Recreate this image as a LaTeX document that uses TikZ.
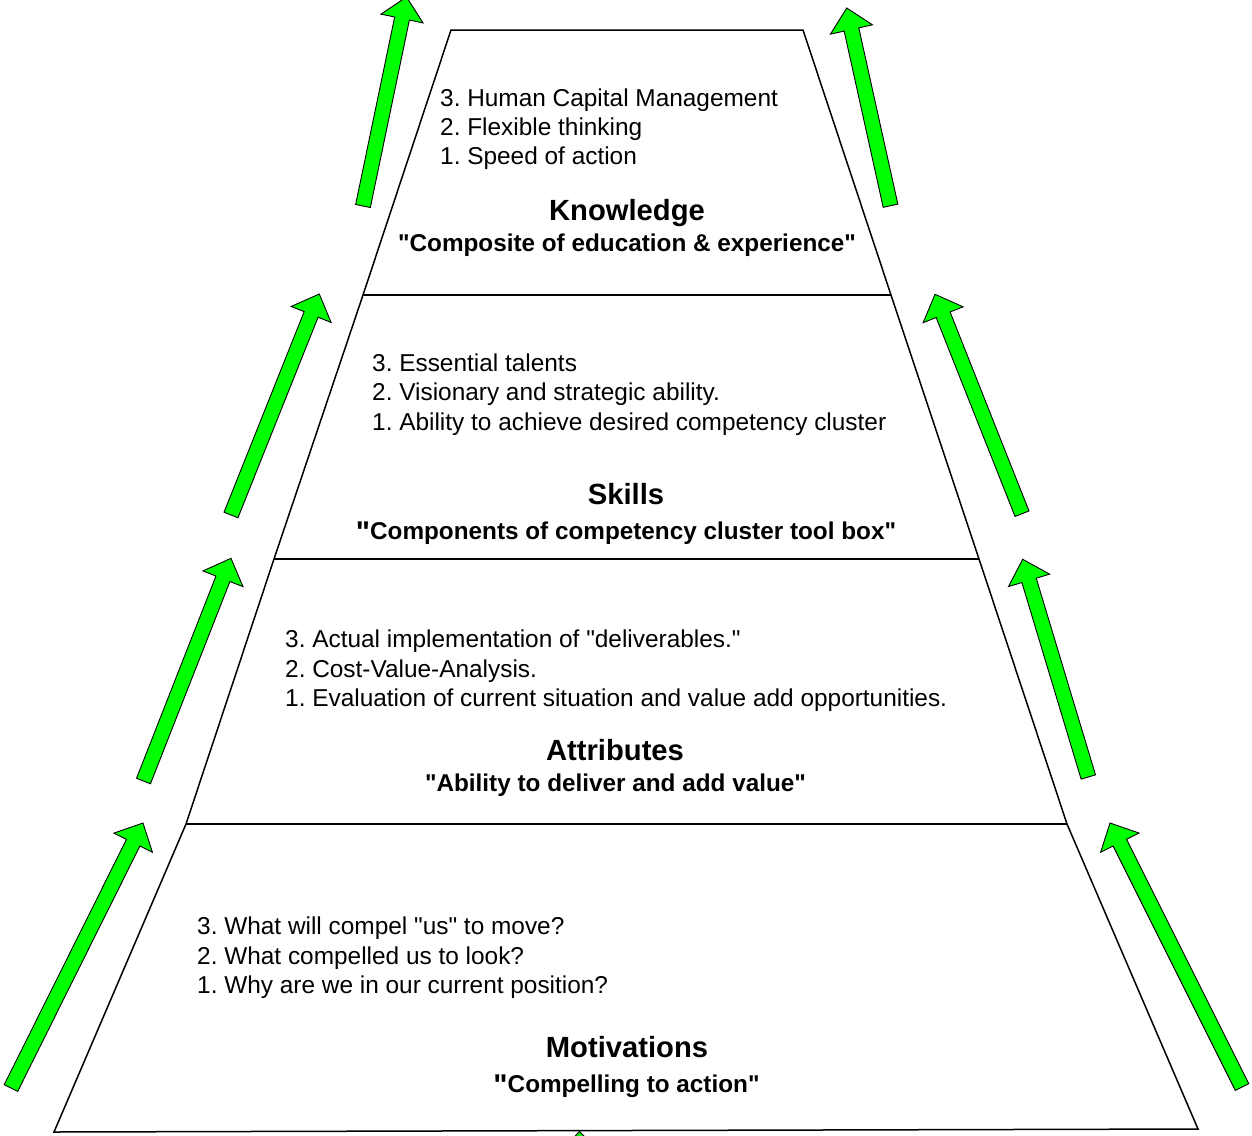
\documentclass[tikz,border=0pt]{standalone}
\usepackage{fontspec}
\setmainfont{Liberation Sans}[Ligatures=TeXOff]
\usetikzlibrary{calc}
\definecolor{arrowgreen}{RGB}{0,255,0}
\newcommand\bigq{\raisebox{-3pt}{\fontsize{30}{30}\selectfont"}}
\newcommand\garrow[2]{%
  \coordinate (gT) at (#1);
  \coordinate (gP) at (#2);
  \coordinate (gB) at ($(gP)!22pt!(gT)$);
  \filldraw[arrowstyle] ($(gT)!7.5pt!90:(gP)$) -- ($(gB)!7.5pt!90:(gP)$) -- ($(gB)!21.5pt!90:(gP)$) -- (gP)
     -- ($(gB)!21.5pt!-90:(gP)$) -- ($(gB)!7.5pt!-90:(gP)$) -- ($(gT)!7.5pt!-90:(gP)$) -- cycle;}
\begin{document}
\frenchspacing
\begin{tikzpicture}[x=1pt,y=-1pt,
  arrowstyle/.style={fill=arrowgreen,draw=black,line width=0.9pt,line join=miter},
  outline/.style={draw=black,line width=1.5pt,line join=miter},
  listtxt/.style={anchor=base west,inner sep=0pt,font=\fontsize{24.4}{29}\selectfont},
  ttl/.style={anchor=base,inner sep=0pt,font=\bfseries\fontsize{29.2}{34}\selectfont},
  subt/.style={anchor=base,inner sep=0pt,font=\bfseries\fontsize{24.3}{29}\selectfont}]
\useasboundingbox (0,0) rectangle (1252,1135);
\clip (0,0) rectangle (1252,1135);
\fill[white] (0,0) rectangle (1252,1135);

% small arrow tip peeking at the bottom
\garrow{580,1250}{579.5,1131.5}

% pyramid
\draw[outline] (451,30) -- (803,30) -- (891,295) -- (979,559) -- (1067,824) -- (1198,1129)
  -- (54,1132) -- (186,824) -- (274,559) -- (363,295) -- cycle;
\draw[outline] (363,295) -- (891,295);
\draw[outline] (274,559) -- (979,559);
\draw[outline] (186,824) -- (1067,824);

% green arrows, left side
\garrow{363,206}{406.5,-3}
\garrow{231,515}{319.3,294}
\garrow{143.5,781}{231,558.3}
\garrow{11,1088}{143,823}
% green arrows, right side
\garrow{890.5,205.7}{846.7,8}
\garrow{1022,513.7}{935,294.3}
\garrow{1088.3,777}{1022.7,559.3}
\garrow{1242,1087}{1110,823}

% Knowledge
\node[listtxt] (k3) at (440,106) {3. Human Capital Management};
\node[listtxt] (k2) at (440,135) {2. Flexible thinking};
\node[listtxt] (k1) at (440,164) {1. Speed of action};
\node[ttl] (kt) at (627,220) {Knowledge};
\node[subt] (ks) at (627,251) {"Composite of education \& experience"};

% Skills
\node[listtxt] (s3) at (372,371) {3. Essential talents};
\node[listtxt] (s2) at (372,400) {2. Visionary and strategic ability.};
\node[listtxt] (s1) at (372,430) {1. Ability to achieve desired competency cluster};
\node[ttl] (st) at (626,504) {Skills};
\node[subt] (ss) at (626,539) {\bigq Components of competency cluster tool box"};

% Attributes
\node[listtxt] (a3) at (285,647) {3. Actual implementation of "deliverables."};
\node[listtxt] (a2) at (285,677) {2. Cost-Value-Analysis.};
\node[listtxt] (a1) at (285,706) {1. Evaluation of current situation and value add opportunities.};
\node[ttl] (at) at (615,760) {Attributes};
\node[subt] (as) at (615.5,791) {"Ability to deliver and add value"};

% Motivations
\node[listtxt] (m3) at (197,934) {3. What will compel "us" to move?};
\node[listtxt] (m2) at (197,964) {2. What compelled us to look?};
\node[listtxt] (m1) at (197,993) {1. Why are we in our current position?};
\node[ttl] (mt) at (627,1057) {Motivations};
\node[subt] (ms) at (626.5,1092) {\bigq Compelling to action"};
\end{tikzpicture}
\end{document}
